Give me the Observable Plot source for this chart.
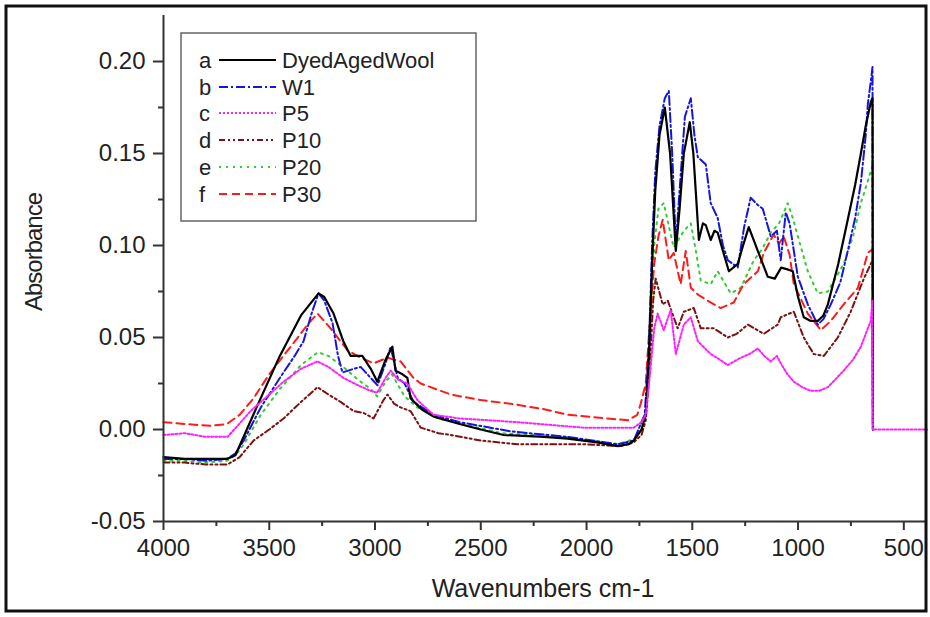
<!DOCTYPE html>
<html>
<head>
<meta charset="utf-8">
<script src="https://cdn.jsdelivr.net/npm/d3@7"></script>
<script src="https://cdn.jsdelivr.net/npm/@observablehq/plot@0.6"></script>
<style>
  html, body { margin: 0; padding: 0; background: #fff; }
  #chart { width: 930px; height: 617px; }
</style>
</head>
<body>
<div id="chart"></div>
<script>
// ---- Data (wavenumber cm-1, absorbance) ----
const dyedAgedWool = [[4000,-0.015],[3900,-0.016],[3800,-0.016],[3700,-0.016],[3660,-0.014],[3560,0.012],[3450,0.040],[3350,0.062],[3267,0.074],[3240,0.072],[3196,0.063],[3150,0.048],[3115,0.040],[3060,0.040],[3020,0.033],[2989,0.026],[2950,0.038],[2918,0.045],[2903,0.032],[2870,0.030],[2847,0.028],[2832,0.017],[2780,0.011],[2723,0.007],[2600,0.003],[2500,0.000],[2392,-0.003],[2200,-0.004],[2089,-0.005],[1950,-0.007],[1853,-0.009],[1800,-0.008],[1777,-0.006],[1740,0.000],[1720,0.008],[1705,0.040],[1690,0.090],[1675,0.130],[1655,0.160],[1630,0.175],[1605,0.150],[1578,0.097],[1560,0.120],[1540,0.150],[1512,0.167],[1495,0.150],[1469,0.103],[1450,0.112],[1436,0.111],[1413,0.103],[1395,0.108],[1380,0.107],[1350,0.095],[1327,0.086],[1285,0.090],[1260,0.100],[1233,0.110],[1210,0.103],[1190,0.097],[1143,0.083],[1110,0.082],[1080,0.088],[1049,0.087],[1025,0.086],[1000,0.072],[973,0.061],[940,0.059],[907,0.059],[880,0.062],[859,0.068],[810,0.090],[765,0.114],[730,0.133],[703,0.150],[680,0.165],[656,0.178],[648,0.180],[646,0.000]];
const w1 = [[4000,-0.016],[3900,-0.016],[3800,-0.017],[3700,-0.016],[3660,-0.013],[3621,-0.006],[3540,0.012],[3450,0.028],[3380,0.040],[3338,0.048],[3300,0.063],[3267,0.074],[3240,0.070],[3201,0.058],[3175,0.040],[3154,0.031],[3100,0.033],[3068,0.034],[3020,0.028],[2988,0.024],[2950,0.036],[2926,0.045],[2893,0.028],[2860,0.025],[2818,0.015],[2723,0.008],[2600,0.004],[2359,-0.001],[2089,-0.004],[1853,-0.008],[1777,-0.006],[1725,0.008],[1705,0.045],[1690,0.100],[1675,0.140],[1655,0.165],[1630,0.180],[1611,0.184],[1595,0.150],[1578,0.101],[1560,0.130],[1535,0.170],[1507,0.180],[1490,0.160],[1474,0.148],[1436,0.144],[1413,0.123],[1380,0.115],[1355,0.100],[1332,0.092],[1285,0.088],[1255,0.110],[1224,0.126],[1190,0.122],[1167,0.120],[1129,0.105],[1100,0.108],[1082,0.092],[1058,0.118],[1040,0.112],[1001,0.083],[954,0.068],[907,0.057],[880,0.060],[845,0.068],[800,0.080],[765,0.097],[730,0.115],[703,0.134],[680,0.160],[670,0.177],[655,0.190],[648,0.197],[646,0.000]];
const p5 = [[4000,-0.003],[3900,-0.002],[3800,-0.004],[3697,-0.004],[3650,0.002],[3589,0.010],[3500,0.019],[3432,0.026],[3350,0.033],[3272,0.037],[3220,0.034],[3149,0.028],[3080,0.024],[3021,0.021],[2990,0.020],[2950,0.028],[2926,0.032],[2890,0.027],[2847,0.025],[2800,0.016],[2723,0.008],[2600,0.006],[2326,0.004],[2013,0.001],[1777,0.001],[1740,0.004],[1720,0.008],[1700,0.030],[1680,0.055],[1664,0.063],[1635,0.054],[1602,0.065],[1578,0.041],[1540,0.057],[1507,0.061],[1474,0.048],[1413,0.041],[1370,0.038],[1332,0.035],[1271,0.039],[1230,0.041],[1190,0.044],[1160,0.040],[1129,0.037],[1100,0.040],[1082,0.036],[1050,0.030],[1020,0.026],[980,0.023],[940,0.021],[900,0.021],[859,0.023],[784,0.032],[740,0.038],[703,0.045],[670,0.055],[656,0.059],[649,0.070],[646,0.000],[390,0.000]];
const p10 = [[4000,-0.018],[3900,-0.018],[3800,-0.019],[3697,-0.019],[3640,-0.015],[3574,-0.006],[3500,0.000],[3432,0.006],[3350,0.015],[3272,0.023],[3220,0.019],[3163,0.015],[3101,0.010],[3054,0.009],[3007,0.006],[2960,0.016],[2941,0.019],[2910,0.014],[2879,0.012],[2832,0.010],[2784,0.001],[2700,-0.002],[2642,-0.003],[2500,-0.006],[2326,-0.008],[2013,-0.008],[1838,-0.009],[1777,-0.007],[1740,-0.003],[1720,0.005],[1700,0.035],[1685,0.070],[1673,0.082],[1640,0.068],[1616,0.070],[1569,0.055],[1540,0.064],[1493,0.066],[1460,0.055],[1399,0.055],[1332,0.050],[1290,0.052],[1238,0.057],[1162,0.052],[1096,0.057],[1082,0.061],[1020,0.064],[973,0.050],[926,0.041],[878,0.040],[812,0.050],[751,0.064],[689,0.082],[656,0.090],[648,0.092],[646,0.000]];
const p20 = [[4000,-0.017],[3900,-0.017],[3800,-0.018],[3700,-0.017],[3660,-0.014],[3620,-0.008],[3540,0.008],[3450,0.022],[3350,0.035],[3270,0.042],[3220,0.040],[3150,0.034],[3080,0.027],[3020,0.022],[2990,0.018],[2950,0.026],[2920,0.030],[2880,0.022],[2860,0.018],[2800,0.012],[2700,0.006],[2400,-0.002],[2100,-0.004],[1850,-0.008],[1770,-0.005],[1720,0.010],[1700,0.050],[1680,0.100],[1660,0.120],[1635,0.123],[1610,0.110],[1588,0.099],[1540,0.108],[1507,0.112],[1480,0.095],[1460,0.081],[1413,0.079],[1380,0.086],[1318,0.074],[1271,0.077],[1209,0.092],[1170,0.098],[1129,0.107],[1090,0.112],[1049,0.123],[1025,0.115],[1001,0.105],[954,0.086],[907,0.074],[859,0.075],[784,0.090],[740,0.105],[703,0.123],[665,0.137],[649,0.143],[646,0.000]];
const p30 = [[4000,0.004],[3900,0.003],[3778,0.002],[3700,0.003],[3640,0.008],[3574,0.017],[3500,0.030],[3461,0.036],[3385,0.047],[3319,0.057],[3272,0.063],[3210,0.055],[3130,0.043],[3068,0.039],[3007,0.036],[2941,0.039],[2879,0.037],[2818,0.028],[2784,0.025],[2642,0.019],[2500,0.016],[2359,0.014],[2200,0.011],[2089,0.008],[1900,0.006],[1805,0.005],[1760,0.008],[1744,0.014],[1720,0.025],[1700,0.060],[1680,0.090],[1660,0.105],[1640,0.114],[1611,0.092],[1588,0.096],[1555,0.079],[1531,0.097],[1507,0.077],[1470,0.073],[1427,0.070],[1366,0.066],[1304,0.069],[1257,0.079],[1190,0.086],[1162,0.096],[1115,0.106],[1090,0.101],[1068,0.105],[1040,0.095],[1020,0.079],[954,0.063],[892,0.054],[845,0.059],[784,0.068],[717,0.077],[670,0.096],[648,0.098],[646,0.000]];

const seriesLetters = ["a","b","c","d","e","f"];
const seriesNames = ["DyedAgedWool","W1","P5","P10","P20","P30"];
const xTicks = [4000,3500,3000,2500,2000,1500,1000,500];
const xMinorTicks = [3750,3250,2750,2250,1750,1250,750];
const yTicks = [-0.05,0.00,0.05,0.10,0.15,0.20];
const yMinorTicks = [-0.025,0.025,0.075,0.125,0.175];
const xLabel = "Wavenumbers cm-1";
const yLabel = "Absorbance";

// ---- Styles ----
const seriesData = [dyedAgedWool, w1, p5, p10, p20, p30];
const colors = ["#000000","#1515e0","#ff20ff","#7a1010","#33cc33","#ff1a1a"];
const dashes = [null,"9,3,2,3","2,2","6,3,2,3,2,3","2,5","8,5"];
const widths = [2.2,2,2,2,2,2];
const drawOrder = [4,3,5,1,0,2];

const font = "'Liberation Sans', Arial, sans-serif";
const axisColor = "#333";

const lineMarks = drawOrder.map(i => Plot.line(seriesData[i], {
  x: d => d[0], y: d => d[1],
  stroke: colors[i], strokeWidth: widths[i],
  strokeDasharray: dashes[i] || undefined,
  curve: "linear"
}));

const plot = Plot.plot({
  width: 930, height: 617,
  marginLeft: 163, marginRight: 3, marginTop: 15, marginBottom: 96,
  style: {fontFamily: font, background: "#fff", color: "#222", overflow: "visible"},
  x: {domain: [4000, 388]},
  y: {domain: [-0.05, 0.225]},
  marks: [
    ...lineMarks,
    Plot.axisY({ticks: yTicks, tickFormat: d => d.toFixed(2), tickSize: 10, tickPadding: 8,
      fontSize: 24, label: null, stroke: axisColor, strokeWidth: 2, fill: "#222"}),
    Plot.axisY({ticks: yMinorTicks, tickFormat: () => "", tickSize: 5, label: null,
      stroke: axisColor, strokeWidth: 2}),
    Plot.axisX({ticks: xTicks, tickFormat: d => String(d), tickSize: 9, tickPadding: 8,
      fontSize: 24, label: null, stroke: axisColor, strokeWidth: 2, fill: "#222"}),
    Plot.axisX({ticks: xMinorTicks, tickFormat: () => "", tickSize: 5, label: null,
      stroke: axisColor, strokeWidth: 2}),
    Plot.ruleX([4000], {stroke: axisColor, strokeWidth: 2}),
    Plot.ruleY([-0.05], {stroke: axisColor, strokeWidth: 2})
  ]
});

document.getElementById("chart").appendChild(plot);

const svg = d3.select(plot);

// outer frame
svg.append("rect")
  .attr("x", 6).attr("y", 6).attr("width", 920).attr("height", 605)
  .attr("fill", "none").attr("stroke", "#111").attr("stroke-width", 3);

// axis labels
svg.append("text")
  .attr("x", 543).attr("y", 597)
  .attr("text-anchor", "middle")
  .attr("font-family", font).attr("font-size", 25).attr("fill", "#222")
  .text(xLabel);

svg.append("text")
  .attr("transform", "translate(42,252) rotate(-90)")
  .attr("text-anchor", "middle")
  .attr("font-family", font).attr("font-size", 24).attr("fill", "#222")
  .attr("letter-spacing", "-1")
  .text(yLabel);

// legend
const lg = svg.append("g").attr("text-anchor", "start");
lg.append("rect")
  .attr("x", 181).attr("y", 33).attr("width", 295).attr("height", 188)
  .attr("fill", "#fff").attr("stroke", "#666").attr("stroke-width", 1.5);
const rowY = [60, 87, 113, 140, 167, 194];
seriesNames.forEach((name, i) => {
  const y = rowY[i];
  lg.append("text").attr("x", 199).attr("y", y).attr("dy", "0.35em")
    .attr("text-anchor", "start")
    .attr("font-family", font).attr("font-size", 22).attr("fill", "#222")
    .text(seriesLetters[i]);
  lg.append("line").attr("x1", 219).attr("x2", 276).attr("y1", y).attr("y2", y)
    .attr("stroke", colors[i]).attr("stroke-width", widths[i])
    .attr("stroke-dasharray", dashes[i]);
  lg.append("text").attr("x", 282).attr("y", y).attr("dy", "0.35em")
    .attr("text-anchor", "start")
    .attr("font-family", font).attr("font-size", 22).attr("fill", "#222")
    .text(name);
});
</script>
</body>
</html>
